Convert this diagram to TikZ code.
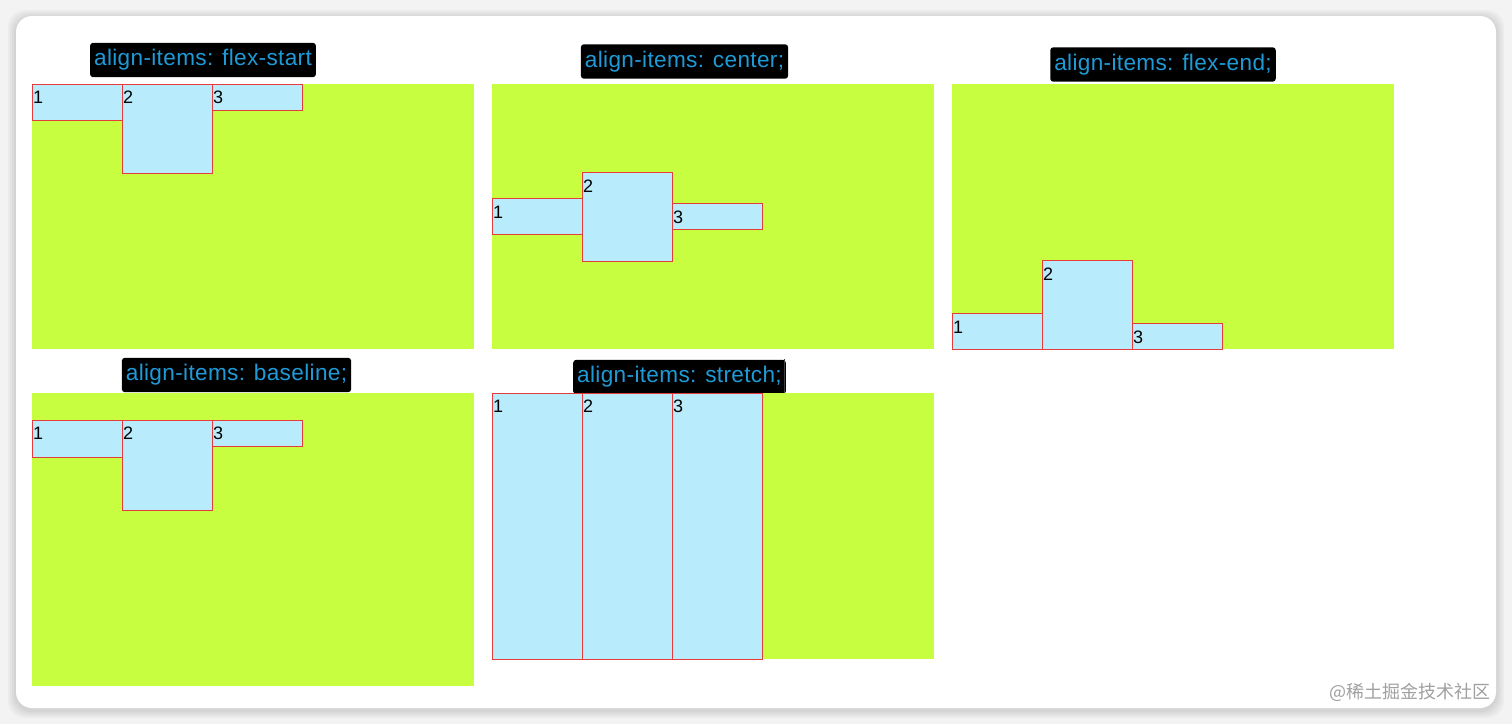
\documentclass[tikz,border=0pt]{standalone}
\usepackage{fontspec}
\setmainfont{Liberation Sans}
\newfontfamily\titlefont[LetterSpace=1.5]{Liberation Sans}
\newfontfamily\cjkfont{Noto Sans CJK SC}
\usetikzlibrary{positioning}
\definecolor{pagebg}{HTML}{F3F3F3}
\definecolor{cardbg}{HTML}{FFFFFF}
\definecolor{flexgreen}{HTML}{C8FE40}
\definecolor{itemfill}{HTML}{B8ECFC}
\definecolor{itemborder}{HTML}{E63B3B}
\definecolor{titletext}{HTML}{1E9BD7}
\definecolor{markgray}{HTML}{A0A0A0}
\tikzset{
  panel/.style={rectangle, fill=flexgreen, anchor=north west, inner sep=0pt,
              minimum width=221pt, minimum height=132.5pt},
  flexitem/.style={rectangle, draw=itemborder, fill=itemfill, line width=0.5pt,
              inner sep=0pt, outer sep=0pt, minimum width=45pt,
              label={[num]north west:#1}},
  num/.style={anchor=north west, font=\fontsize{9}{9}\selectfont, text=black,
              inner xsep=0.3pt, inner ysep=3.4pt},
  cssbox/.style={rectangle, rounded corners=1.5pt, fill=black, text=titletext,
              font=\titlefont\fontsize{11.3}{12}\selectfont, inner xsep=2pt,
              minimum height=15pt},
}
\begin{document}
\begin{tikzpicture}[x=0.5pt, y=-0.5pt]
      \useasboundingbox (0,0) rectangle (1512,724);
      \fill[pagebg] (0,0) rectangle (1512,724);
      % card with soft shadow
      \foreach \s in {8,6,4,2}
        \fill[black, opacity=0.03, rounded corners=9pt]
          (16-\s,16-\s+2) rectangle (1496+\s,708+\s+2);
      \fill[cardbg, rounded corners=8pt] (16,16) rectangle (1496,708);

      % flex-start
      \node[cssbox] (fstitle) at (203,60) {align-items: flex-start};
      \node[panel] (fs) at (32,84) {};
      \node[flexitem=1, anchor=north west, minimum height=18pt] (fs1) at (fs.north west) {};
      \node[flexitem=2, anchor=north west, minimum height=44.5pt] (fs2) at (fs1.north east) {};
      \node[flexitem=3, anchor=north west, minimum height=13pt] (fs3) at (fs2.north east) {};

      % center
      \node[cssbox] (cetitle) at (684.5,61.5) {align-items: center;};
      \node[panel] (ce) at (492,84) {};
      \node[flexitem=1, anchor=west, minimum height=18pt] (ce1) at (ce.west) {};
      \node[flexitem=2, anchor=west, minimum height=44.5pt] (ce2) at (ce1.east) {};
      \node[flexitem=3, anchor=west, minimum height=13pt] (ce3) at (ce2.east) {};

      % flex-end
      \node[cssbox] (fetitle) at (1163,64.5) {align-items: flex-end;};
      \node[panel] (fe) at (952,84) {};
      \node[flexitem=1, anchor=south west, minimum height=18pt] (fe1) at (fe.south west) {};
      \node[flexitem=2, anchor=south west, minimum height=44.5pt] (fe2) at (fe1.south east) {};
      \node[flexitem=3, anchor=south west, minimum height=13pt] (fe3) at (fe2.south east) {};

      % baseline
      \node[cssbox] (bltitle) at (236.5,375) {align-items: baseline;};
      \node[panel, minimum height=146.5pt] (bl) at (32,393) {};
      \node[flexitem=1, anchor=north west, minimum height=18.5pt] (bl1) at ([yshift=-13.5pt]bl.north west) {};
      \node[flexitem=2, anchor=north west, minimum height=45pt] (bl2) at (bl1.north east) {};
      \node[flexitem=3, anchor=north west, minimum height=13pt] (bl3) at (bl2.north east) {};

      % stretch
      \node[cssbox] (sttitle) at (679.5,377) {align-items: stretch;};
      \draw[black!75, line width=0.6pt] ([xshift=-1pt]sttitle.north east) -- ([xshift=-1pt]sttitle.south east);
      \node[panel, minimum height=133pt] (st) at (492,393) {};
      \node[flexitem=1, anchor=north west, minimum height=133pt] (st1) at (st.north west) {};
      \node[flexitem=2, anchor=north west, minimum height=133pt] (st2) at (st1.north east) {};
      \node[flexitem=3, anchor=north west, minimum height=133pt] (st3) at (st2.north east) {};

      \node[anchor=east, inner sep=0pt, text=markgray, font=\cjkfont\fontsize{9}{9}\selectfont] (mark) at (1491,692) {@稀土掘金技术社区};
    \end{tikzpicture}
\end{document}
